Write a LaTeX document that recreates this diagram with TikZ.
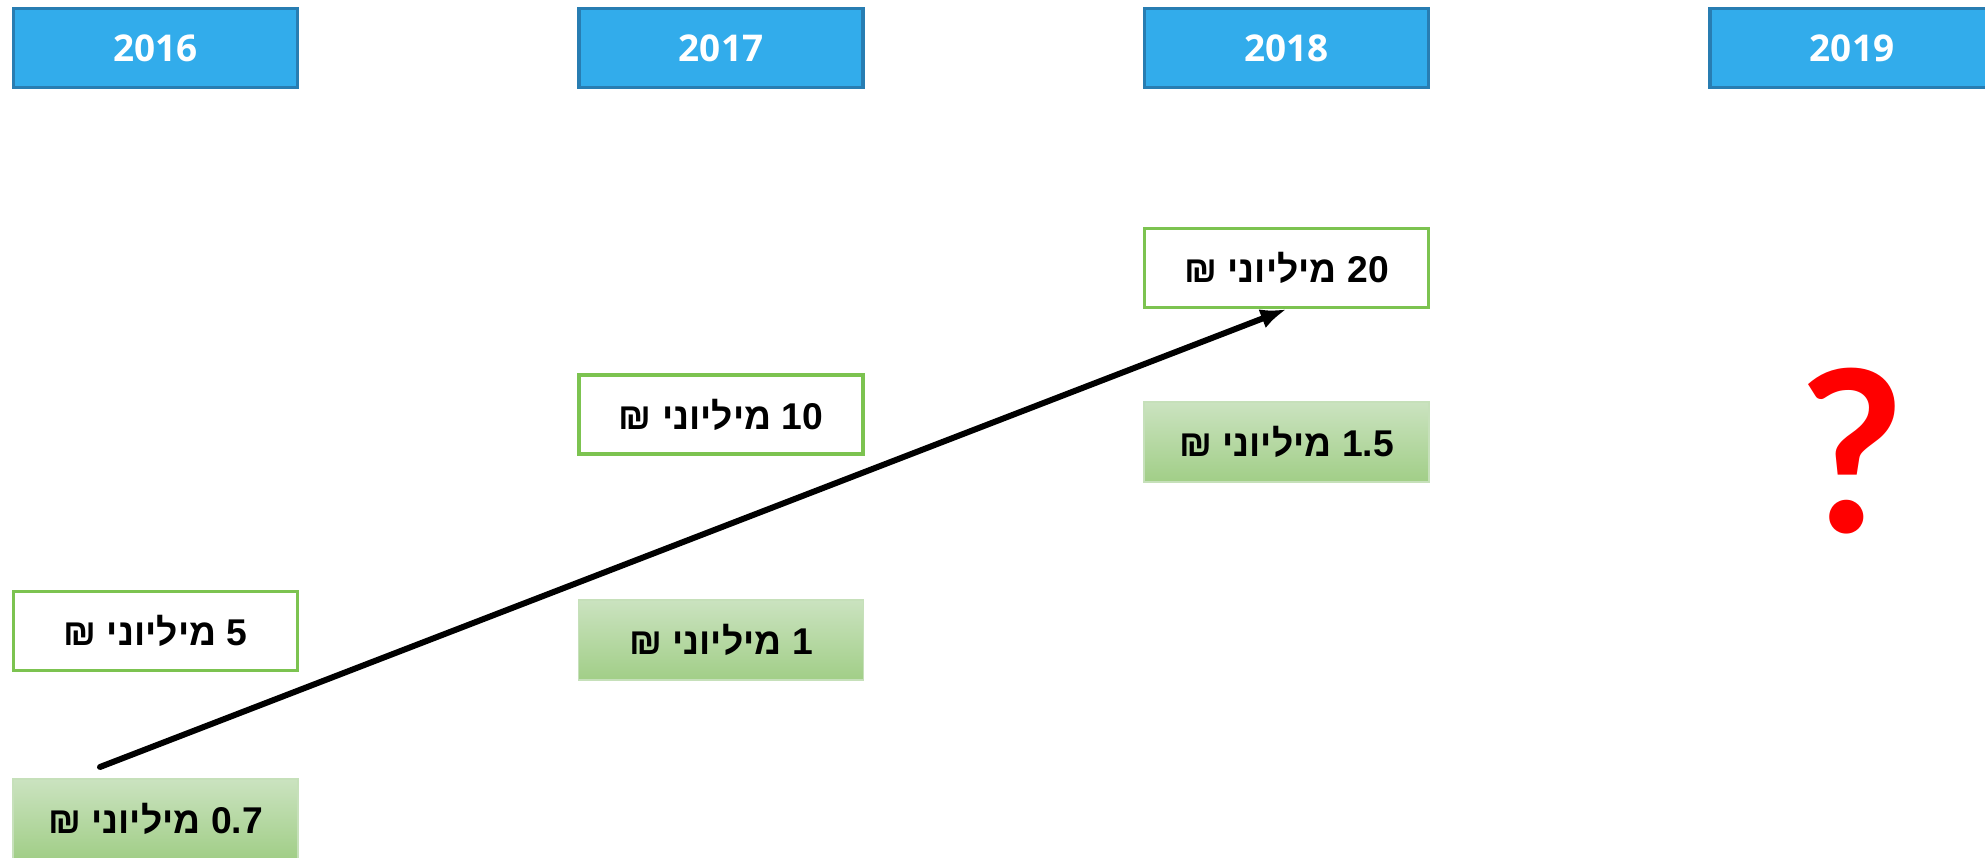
\documentclass[tikz,border=0pt]{standalone}
\usepackage{fontspec}
\setmainfont{Open Sans}
\newfontfamily\hebfont[Script=Hebrew]{Liberation Sans}
\newfontfamily\qfont{Lato}
\TeXXeTstate=1
\usetikzlibrary{arrows.meta}

\definecolor{yearfill}{HTML}{32ACEB}
\definecolor{yearline}{HTML}{287DB2}
\definecolor{goalline}{HTML}{7CC350}
\definecolor{gottop}{HTML}{CBE3C0}
\definecolor{gotbottom}{HTML}{A1CE87}
\definecolor{gotline}{HTML}{C6E0BA}

\newcommand{\heb}[1]{{\hebfont\bfseries\beginR #1\endR}}

\tikzstyle{year} = [rectangle, minimum width=2.84cm, minimum height=0.79cm, text centered, line width=1pt, draw=yearline, fill=yearfill, text=white, font=\bfseries\fontsize{10.5}{12}\selectfont]
\tikzstyle{goal} = [rectangle, minimum width=2.84cm, minimum height=0.79cm, text centered, line width=1pt, draw=goalline, fill=white, font=\fontsize{10.6}{12}\selectfont]
\tikzstyle{got} = [rectangle, minimum width=2.85cm, minimum height=0.8cm, text centered, line width=0.5pt, draw=gotline, top color=gottop, bottom color=gotbottom, font=\fontsize{10.6}{12}\selectfont]
\tikzstyle{arrow} = [line width=1.7pt, line cap=round, ->, >={Latex[length=0.26cm,width=0.2cm]}]

\begin{document}
\begin{tikzpicture}[node distance=5.655cm]
\useasboundingbox (0,0) rectangle (19.85,-8.58);
% years
\node (y2016) [year] at (1.555,-0.48) {2016};
\node (y2017) [year, right of=y2016] {2017};
\node (y2018) [year, right of=y2017] {2018};
\node (y2019) [year, right of=y2018] {2019};
% targets and results
\node (v5) [goal, below of=y2016, node distance=5.83cm] {\heb{5 מיליוני ₪}};
\node (v07) [got, below of=v5, node distance=1.88cm] {\heb{\beginL 0.7\endL{} מיליוני ₪}};
\node (v10) [goal, below of=y2017, node distance=3.665cm] {\heb{10 מיליוני ₪}};
\node (v1) [got, below of=v10, node distance=2.255cm] {\heb{1 מיליוני ₪}};
\node (v20) [goal, below of=y2018, node distance=2.2cm] {\heb{20 מיליוני ₪}};
\node (v15) [got, below of=v20, node distance=1.74cm] {\heb{\beginL 1.5\endL{} מיליוני ₪}};
\node (q) [below of=y2019, node distance=4.03cm, text=red, font=\qfont\bfseries\fontsize{64}{64}\selectfont] {?};
\coordinate (tail) at (1.0,-7.67);
\draw [arrow] (tail) -- (v20.south);
\end{tikzpicture}
\end{document}
